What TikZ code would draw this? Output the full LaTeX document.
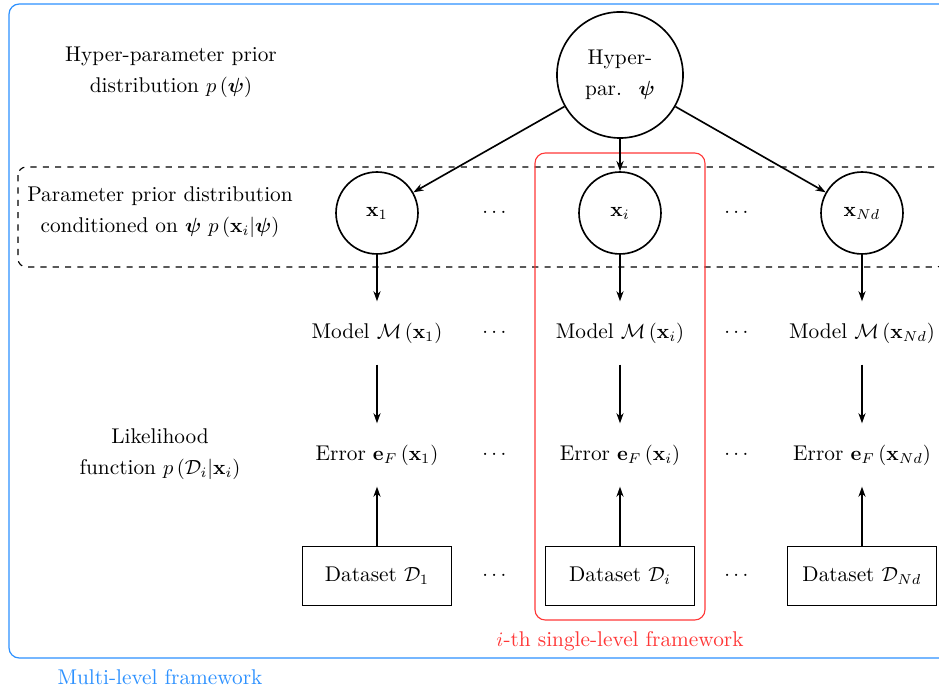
\documentclass[tikz,border=0pt]{standalone}
\usepackage{amsmath,amssymb,bm}
\usetikzlibrary{arrows.meta}
\definecolor{frameblue}{RGB}{45,145,255}
\definecolor{framered}{RGB}{255,55,55}
\begin{document}
\begin{tikzpicture}[x=0.488pt,y=-0.488pt,
  every node/.style={font=\fontsize{10.4}{15}\selectfont},
  >={Stealth[length=5pt,width=3.5pt]},
  conn/.style={->,thick},
  bigcirc/.style={circle,draw,thick,minimum size=61.5pt,inner sep=0pt,align=center},
  smallcirc/.style={circle,draw,thick,minimum size=40pt,inner sep=0pt},
  txtnode/.style={minimum height=30.5pt,inner sep=2pt},
  databox/.style={draw,thick,minimum width=72.7pt,minimum height=28.8pt,inner sep=2pt},
  dotsnode/.style={inner sep=0pt},
  sidelabel/.style={align=center}]
\useasboundingbox (0,0) rectangle (939,691);

% frames
\draw[frameblue,rounded corners=5pt,line width=0.6pt] (9,4) rectangle (990,658);
\node[frameblue] (mlabel) at (160,677) {Multi-level framework};
\draw[dashed,rounded corners=4pt,line width=0.55pt] (18,167) rectangle (945,267);
\draw[framered,rounded corners=5pt,line width=0.55pt] (535,153) rectangle (705,620);
\node[framered] (slabel) at (620,641) {$i$-th single-level framework};

% side labels
\node[sidelabel] (l1) at (171,72) {Hyper-parameter prior\\distribution $p\left(\bm{\psi}\right)$};
\node[sidelabel] (l2) at (160,212) {Parameter prior distribution\\conditioned on $\bm{\psi}$ $p\left(\mathbf{x}_i|\bm{\psi}\right)$};
\node[sidelabel] (l3) at (160,454) {Likelihood\\function $p\left(\mathcal{D}_i|\mathbf{x}_i\right)$};

% hyper
\node[bigcirc] (hyp) at (620,75) {Hyper-\\par. \ $\bm{\psi}$};

% parameters
\node[smallcirc] (x1) at (377,213) {$\mathbf{x}_1$};
\node[smallcirc] (xi) at (620,213) {$\mathbf{x}_i$};
\node[smallcirc] (xn) at (862,213) {$\mathbf{x}_{Nd}$};

% models
\node[txtnode] (m1) at (377,333) {Model $\mathcal{M}\left(\mathbf{x}_1\right)$};
\node[txtnode] (mi) at (620,333) {Model $\mathcal{M}\left(\mathbf{x}_i\right)$};
\node[txtnode] (mn) at (862,333) {Model $\mathcal{M}\left(\mathbf{x}_{Nd}\right)$};

% errors
\node[txtnode] (e1) at (377,455) {Error $\mathbf{e}_F\left(\mathbf{x}_1\right)$};
\node[txtnode] (ei) at (620,455) {Error $\mathbf{e}_F\left(\mathbf{x}_i\right)$};
\node[txtnode] (en) at (862,455) {Error $\mathbf{e}_F\left(\mathbf{x}_{Nd}\right)$};

% datasets
\node[databox] (d1) at (377,576) {Dataset $\mathcal{D}_1$};
\node[databox] (di) at (620,576) {Dataset $\mathcal{D}_i$};
\node[databox] (dn) at (862,576) {Dataset $\mathcal{D}_{Nd}$};

% dots
\foreach \r/\yy in {a/213,b/333,c/455,d/576}{
  \node[dotsnode] (dl\r) at (496,\yy) {$\cdots$};
  \node[dotsnode] (dr\r) at (738,\yy) {$\cdots$};
}

% connectors
\draw[conn] (hyp) -- (x1);
\draw[conn] (hyp) -- (xi);
\draw[conn] (hyp) -- (xn);
\foreach \c in {1,i,n}{
  \draw[conn] (x\c) -- (m\c);
  \draw[conn] (m\c) -- (e\c);
  \draw[conn] (d\c) -- (e\c);
}
\end{tikzpicture}
\end{document}
